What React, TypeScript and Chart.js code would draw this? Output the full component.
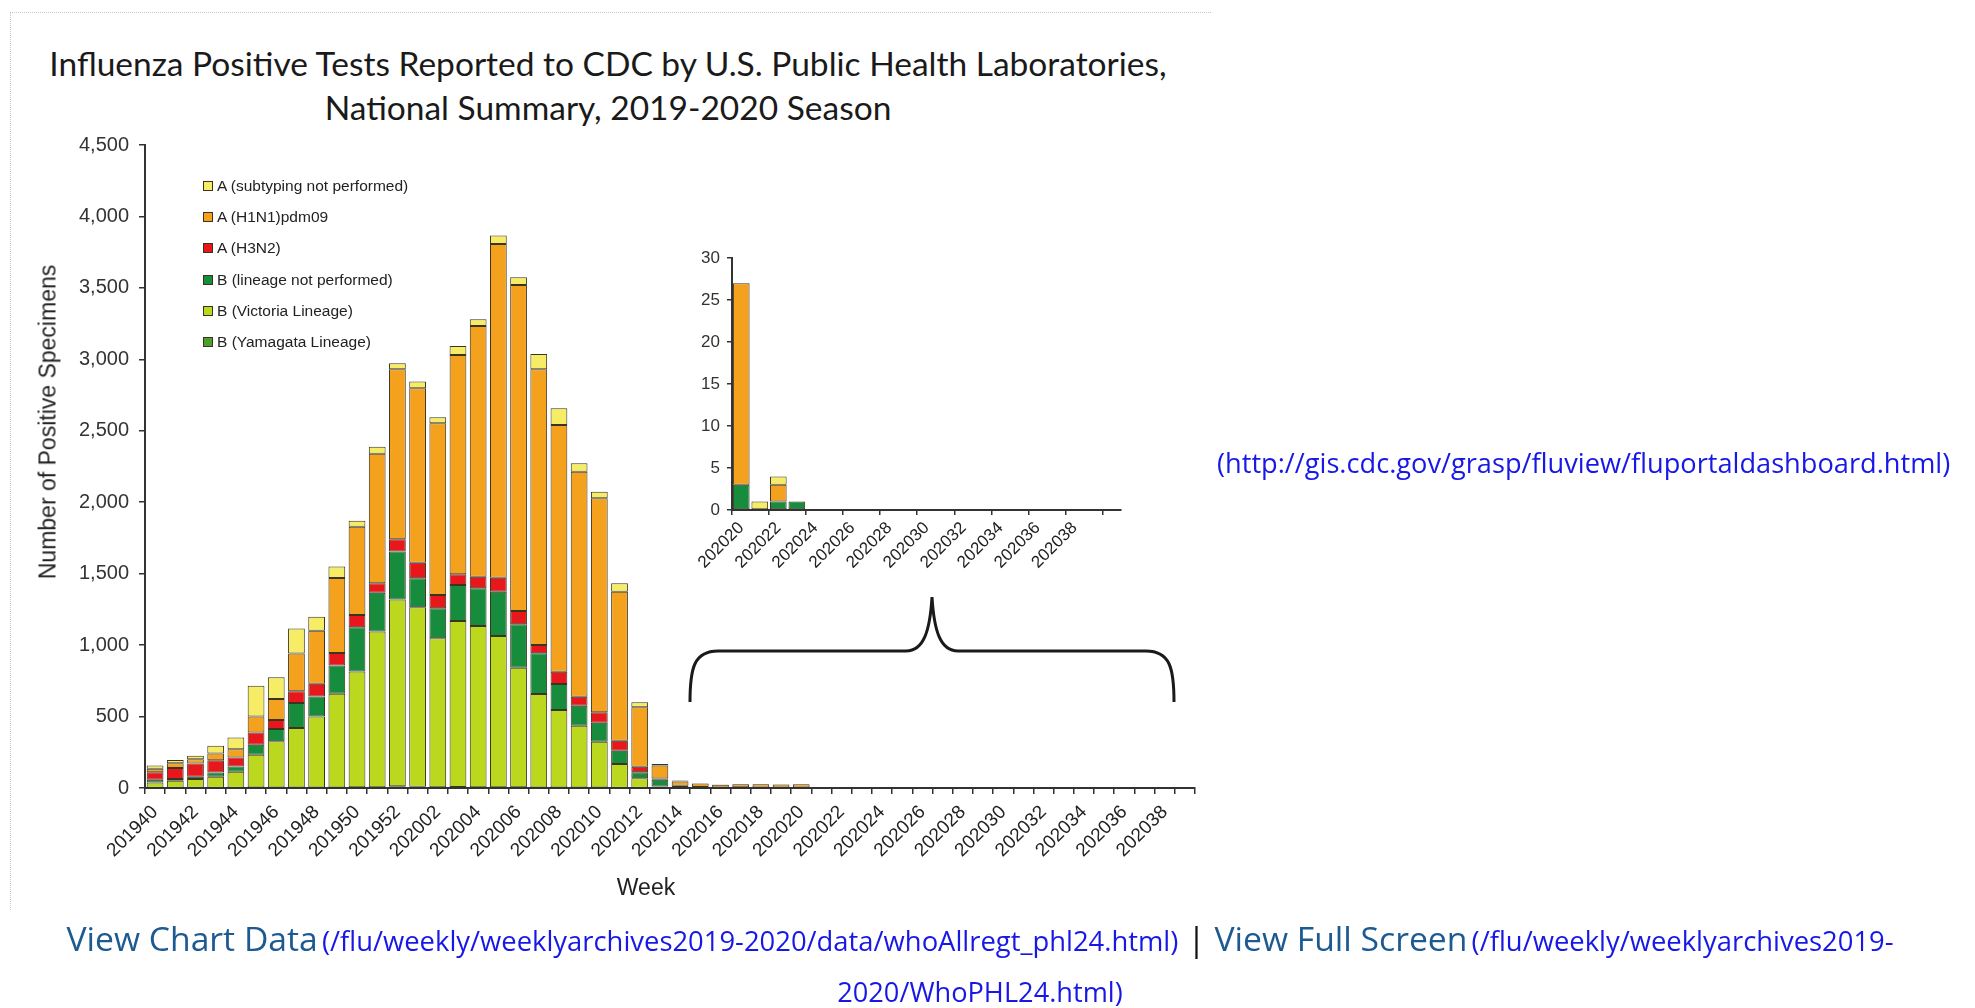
import React, { useEffect, useRef } from 'react';
import { Chart, registerables } from 'chart.js';

Chart.register(...registerables);

// ---------- DATA ----------
const weeks = [
  '201940', '201941', '201942', '201943', '201944', '201945', '201946', '201947', '201948', '201949',
  '201950', '201951', '201952', '202001', '202002', '202003', '202004', '202005', '202006', '202007',
  '202008', '202009', '202010', '202011', '202012', '202013', '202014', '202015', '202016', '202017',
  '202018', '202019', '202020', '202021', '202022', '202023', '202024', '202025', '202026', '202027',
  '202028', '202029', '202030', '202031', '202032', '202033', '202034', '202035', '202036', '202037',
  '202038', '202039',
];

const bYamagata = [
  1, 1, 1, 1, 2, 3, 3, 3, 4, 4, 5, 6, 12, 8, 6, 7, 6, 6, 5, 4,
  4, 3, 3, 2, 1, 0, 0, 0, 0, 0, 0, 0, 0, 0, 0, 0, 0, 0, 0, 0,
  0, 0, 0, 0, 0, 0, 0, 0, 0, 0, 0, 0,
];
const bVictoria = [
  37, 50, 62, 78, 112, 230, 324, 417, 496, 656, 810, 1089, 1308, 1257, 1042, 1162, 1128, 1058, 837, 654,
  542, 433, 321, 166, 67, 10, 3, 1, 0, 0, 0, 0, 0, 0, 0, 0, 0, 0, 0, 0,
  0, 0, 0, 0, 0, 0, 0, 0, 0, 0, 0, 0,
];
const bLineageNotPerformed = [
  19, 12, 16, 30, 37, 70, 86, 175, 140, 198, 310, 272, 335, 203, 210, 252, 264, 310, 304, 285,
  182, 140, 133, 93, 42, 48, 12, 6, 4, 5, 4, 4, 3, 0, 1, 1, 0, 0, 0, 0,
  0, 0, 0, 0, 0, 0, 0, 0, 0, 0, 0, 0,
];
const aH3N2 = [
  54, 77, 93, 86, 63, 86, 63, 82, 90, 87, 86, 66, 85, 109, 93, 75, 81, 98, 93, 58,
  86, 63, 73, 70, 39, 8, 1, 0, 0, 0, 0, 0, 0, 0, 0, 0, 0, 0, 0, 0,
  0, 0, 0, 0, 0, 0, 0, 0, 0, 0, 0, 0,
];
const aH1N1pdm09 = [
  23, 33, 30, 47, 58, 112, 147, 265, 370, 525, 618, 907, 1190, 1221, 1202, 1535, 1755, 2336, 2282, 1930,
  1727, 1575, 1498, 1043, 416, 92, 30, 25, 19, 21, 22, 20, 24, 0, 2, 0, 0, 0, 0, 0,
  0, 0, 0, 0, 0, 0, 0, 0, 0, 0, 0, 0,
];
const aSubtypingNotPerformed = [
  23, 23, 23, 54, 82, 215, 152, 175, 98, 80, 42, 48, 43, 46, 42, 63, 47, 58, 54, 107,
  117, 59, 46, 59, 35, 10, 6, 2, 2, 2, 2, 2, 0, 1, 1, 0, 0, 0, 0, 0,
  0, 0, 0, 0, 0, 0, 0, 0, 0, 0, 0, 0,
];

// inset: weeks from 202020 onward (plus one empty trailing category)
const insetStartIndex = 32;
const insetExtraCategory = [''];

const mainYMax = 4500;
const mainYStep = 500;
const insetYMax = 30;
const insetYStep = 5;

const seriesNames = [
  'B (Yamagata Lineage)',
  'B (Victoria Lineage)',
  'B (lineage not performed)',
  'A (H3N2)',
  'A (H1N1)pdm09',
  'A (subtyping not performed)',
];
const seriesColors = ['#4f9d2d', '#bcd81e', '#178c3c', '#e8171c', '#f4a11e', '#f6ec66'];
const seriesValues = [bYamagata, bVictoria, bLineageNotPerformed, aH3N2, aH1N1pdm09, aSubtypingNotPerformed];

const BORDER = '#3a3520';
const AXIS = '#333333';
const CHART_FONT = "'Liberation Sans', Arial, sans-serif";

export default function App() {
  const mainRef = useRef<HTMLCanvasElement | null>(null);
  const insetRef = useRef<HTMLCanvasElement | null>(null);

  useEffect(() => {
    if (!mainRef.current || !insetRef.current) return;

    const mainChart = new Chart(mainRef.current, {
      type: 'bar',
      data: {
        labels: weeks,
        datasets: seriesNames.map((name, k) => ({
          label: name,
          data: seriesValues[k],
          backgroundColor: seriesColors[k],
          borderColor: BORDER,
          borderWidth: 1,
          borderSkipped: false,
          barPercentage: 0.83,
          categoryPercentage: 1,
        })),
      },
      options: {
        responsive: false,
        animation: false,
        events: [],
        layout: { padding: { top: 145, right: 20, left: 0, bottom: 0 } },
        plugins: { legend: { display: false }, tooltip: { enabled: false }, title: { display: false } },
        scales: {
          x: {
            stacked: true,
            offset: true,
            grid: { offset: true, drawOnChartArea: false, tickLength: 6, tickColor: AXIS, lineWidth: 1.5 },
            border: { display: true, color: AXIS, width: 2 },
            ticks: {
              autoSkip: false,
              minRotation: 45,
              maxRotation: 45,
              padding: 7,
              color: '#222',
              font: { family: CHART_FONT, size: 19 },
              callback: (_v: any, i: number) => (i % 2 === 0 ? weeks[i] : ''),
            },
            afterFit: (s: any) => {
              s.height = 122;
            },
          } as any,
          y: {
            stacked: true,
            min: 0,
            max: mainYMax,
            grid: { drawOnChartArea: false, tickLength: 6, tickColor: AXIS, lineWidth: 1.5 },
            border: { display: true, color: AXIS, width: 2 },
            ticks: {
              stepSize: mainYStep,
              padding: 10,
              color: '#333',
              font: { family: CHART_FONT, size: 20 },
              callback: (v: any) => Number(v).toLocaleString('en-US'),
            },
            afterFit: (s: any) => {
              s.width = 145;
            },
          } as any,
        },
      },
    });

    const insetLabels = weeks.slice(insetStartIndex).concat(insetExtraCategory);
    const insetChart = new Chart(insetRef.current, {
      type: 'bar',
      data: {
        labels: insetLabels,
        datasets: seriesNames.map((name, k) => ({
          label: name,
          data: seriesValues[k].slice(insetStartIndex).concat([0]),
          backgroundColor: seriesColors[k],
          borderColor: BORDER,
          borderWidth: 1,
          borderSkipped: false,
          barPercentage: 0.9,
          categoryPercentage: 1,
        })),
      },
      options: {
        responsive: false,
        animation: false,
        events: [],
        layout: { padding: { top: 28, right: 19, left: 0, bottom: 0 } },
        plugins: { legend: { display: false }, tooltip: { enabled: false }, title: { display: false } },
        scales: {
          x: {
            stacked: true,
            offset: true,
            grid: {
              offset: true,
              drawOnChartArea: false,
              tickLength: 5,
              lineWidth: 1.5,
              tickColor: (ctx: any) => (typeof ctx.index === 'number' && ctx.index % 2 === 0 ? AXIS : 'rgba(0,0,0,0)'),
            },
            border: { display: true, color: AXIS, width: 2 },
            ticks: {
              autoSkip: false,
              minRotation: 45,
              maxRotation: 45,
              padding: 3,
              color: '#222',
              font: { family: CHART_FONT, size: 17 },
              callback: (_v: any, i: number) => (i % 2 === 0 ? insetLabels[i] : ''),
            },
            afterFit: (s: any) => {
              s.height = 80;
            },
          } as any,
          y: {
            stacked: true,
            min: 0,
            max: insetYMax,
            grid: { drawOnChartArea: false, tickLength: 5, tickColor: AXIS, lineWidth: 1.5 },
            border: { display: true, color: AXIS, width: 2 },
            ticks: {
              stepSize: insetYStep,
              padding: 7,
              color: '#333',
              font: { family: CHART_FONT, size: 17 },
            },
            afterFit: (s: any) => {
              s.width = 82;
            },
          } as any,
        },
      },
    });

    return () => {
      mainChart.destroy();
      insetChart.destroy();
    };
  }, []);

  const legendOrder = [5, 4, 3, 2, 1, 0];

  return (
    <div
      style={{
        position: 'absolute',
        left: 0,
        top: 0,
        width: 1975,
        height: 1008,
        background: '#fff',
        overflow: 'hidden',
      }}
    >
      {/* image frame */}
      <div
        style={{
          position: 'absolute',
          left: 10,
          top: 12,
          width: 1200,
          height: 897,
          borderTop: '1px dotted #c8c8c8',
          borderLeft: '1px dotted #c8c8c8',
        }}
      />

      {/* title */}
      <div
        style={{
          position: 'absolute',
          left: 8,
          top: 41,
          width: 1200,
          textAlign: 'center',
          fontFamily: 'Lato, sans-serif',
          fontSize: 33.5,
          lineHeight: '44px',
          color: '#1a1a1a',
          whiteSpace: 'nowrap',
        }}
      >
        <div>Influenza Positive Tests Reported to CDC by U.S. Public Health Laboratories,</div>
        <div>National Summary, 2019-2020 Season</div>
      </div>

      <canvas
        ref={mainRef}
        width={1215}
        height={910}
        style={{ position: 'absolute', left: 0, top: 0, width: 1215, height: 910 }}
      />
      <canvas
        ref={insetRef}
        width={490}
        height={360}
        style={{ position: 'absolute', left: 650, top: 230, width: 490, height: 360 }}
      />

      {/* legend */}
      {legendOrder.map((k, row) => (
        <div
          key={k}
          style={{
            position: 'absolute',
            left: 203,
            top: 186 + row * 31.2 - 10,
            height: 20,
            display: 'flex',
            alignItems: 'center',
            fontFamily: CHART_FONT,
            fontSize: 15.5,
            color: '#222',
            whiteSpace: 'nowrap',
          }}
        >
          <span
            style={{
              display: 'inline-block',
              width: 8,
              height: 8,
              background: seriesColors[k],
              border: `1px solid ${BORDER}`,
              marginRight: 4,
            }}
          />
          <span>{seriesNames[k]}</span>
        </div>
      ))}

      {/* y axis title */}
      <div
        style={{
          position: 'absolute',
          left: 48,
          top: 422,
          transform: 'translate(-50%, -50%) rotate(-90deg)',
          fontFamily: CHART_FONT,
          fontSize: 23,
          color: '#222',
          whiteSpace: 'nowrap',
        }}
      >
        Number of Positive Specimens
      </div>

      {/* x axis title */}
      <div
        style={{
          position: 'absolute',
          left: 646,
          top: 887,
          transform: 'translate(-50%, -50%)',
          fontFamily: CHART_FONT,
          fontSize: 23,
          color: '#222',
          whiteSpace: 'nowrap',
        }}
      >
        Week
      </div>

      {/* brace */}
      <svg
        width={1975}
        height={1008}
        style={{ position: 'absolute', left: 0, top: 0, pointerEvents: 'none' }}
      >
        <path
          d="M690,702 C690,668 694,651 718,651 L906,651 C924,651 930,630 932,597 C934,630 940,651 958,651 L1146,651 C1170,651 1174,668 1174,702"
          fill="none"
          stroke="#1a1a1a"
          strokeWidth={3}
        />
      </svg>

      {/* right link */}
      <div
        style={{
          position: 'absolute',
          left: 1217,
          top: 462,
          transform: 'translateY(-50%)',
          fontFamily: "'Open Sans', sans-serif",
          fontSize: 27.2,
          color: '#1717e6',
          whiteSpace: 'nowrap',
        }}
      >
        (http://gis.cdc.gov/grasp/fluview/fluportaldashboard.html)
      </div>

      {/* bottom links */}
      <div
        style={{
          position: 'absolute',
          left: 0,
          width: 1960,
          top: 912,
          textAlign: 'center',
          fontFamily: "'Open Sans', sans-serif",
          whiteSpace: 'nowrap',
        }}
      >
        <div style={{ height: 53, lineHeight: '53px' }}>
          <span style={{ fontSize: 33.7, color: '#1d5a91' }}>View Chart Data</span>{' '}
          <span style={{ fontSize: 27.4, color: '#1717e6' }}>
            (/flu/weekly/weeklyarchives2019-2020/data/whoAllregt_phl24.html)
          </span>
          <span style={{ fontSize: 33.7, color: '#111' }}> | </span>
          <span style={{ fontSize: 33.7, color: '#1d5a91' }}>View Full Screen</span>{' '}
          <span style={{ fontSize: 27.4, color: '#1717e6' }}>(/flu/weekly/weeklyarchives2019-</span>
        </div>
        <div style={{ height: 53, lineHeight: '53px' }}>
          <span style={{ fontSize: 27.2, color: '#1717e6' }}>2020/WhoPHL24.html)</span>
        </div>
      </div>
    </div>
  );
}
